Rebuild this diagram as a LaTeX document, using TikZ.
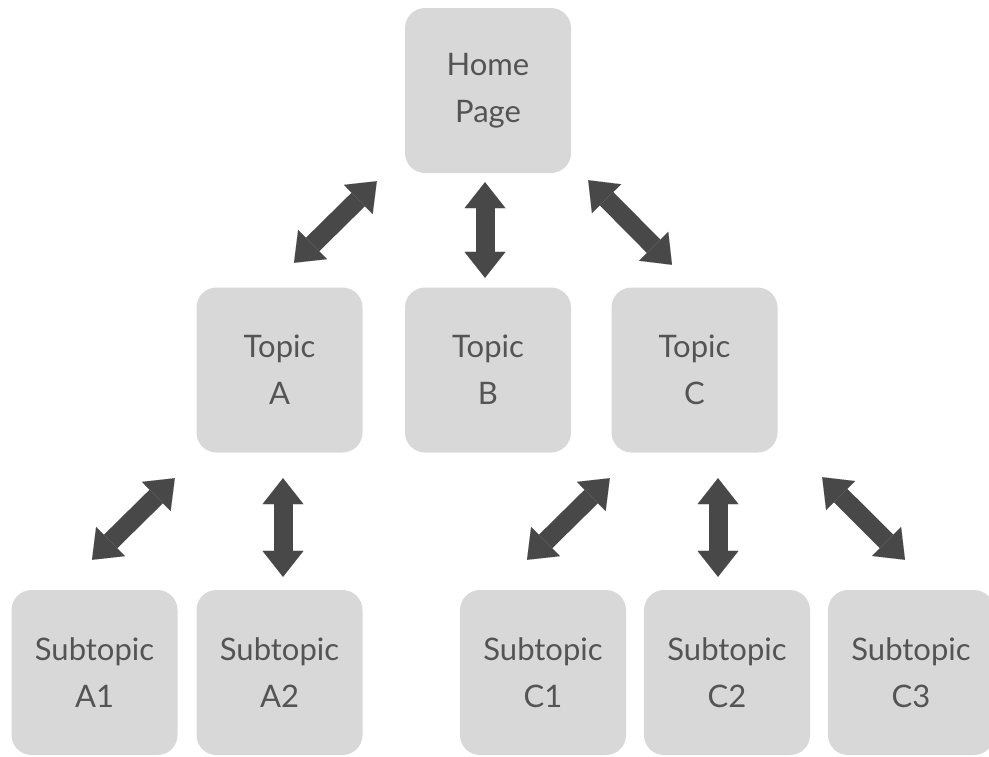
\documentclass[tikz,border=0pt]{standalone}
\usepackage{fontspec}
\setmainfont{Lato}
\usepackage{tikz}
\usetikzlibrary{arrows.meta,positioning,calc}
\definecolor{cBox}{HTML}{D8D8D8}
\definecolor{cTxt}{HTML}{545454}
\definecolor{cArr}{HTML}{484848}
\tikzset{
  page/.style={rectangle,rounded corners=20pt,fill=cBox,text=cTxt,align=center,
    minimum width=166pt,minimum height=165pt,inner sep=0pt,
    font=\fontsize{31}{47}\selectfont},
  link/.style={{Triangle[length=26pt,width=41pt,line width=0.01pt]}-{Triangle[length=26pt,width=41pt,line width=0.01pt]},
    line width=19pt,cArr},
}

\begin{document}
\begin{tikzpicture}[x=1pt,y=1pt]
  \clip (0,0) rectangle (989,-756);
  % the pages
  \node[page] (home) at (488,-90.5) {Home\\Page};
  \node[page] (topicA) at (279.5,-370) {Topic\\A};
  \node[page] (topicB) at (488,-370) {Topic\\B};
  \node[page] (topicC) at (694.5,-370) {Topic\\C};
  \node[page] (subA1) at (94.5,-672.5) {Subtopic\\A1};
  \node[page] (subA2) at (279.5,-672.5) {Subtopic\\A2};
  \node[page] (subC1) at (543,-672.5) {Subtopic\\C1};
  \node[page] (subC2) at (727,-672.5) {Subtopic\\C2};
  \node[page] (subC3) at (911,-672.5) {Subtopic\\C3};
  % links between levels
  \draw[link] ($(home.south west)+(-28,-8)$) -- ($(topicA.north)+(14.5,24.5)$);
  \draw[link] ($(home.south)+(-3,-9)$) -- ($(topicB.north)+(-3,9.5)$);
  \draw[link] ($(home.south east)+(17,-7)$) -- ($(topicC.north)+(-22.5,22.5)$);
  \draw[link] ($(topicA.south west)+(-21.5,-25.5)$) -- ($(subA1.north)+(-2.5,30)$);
  \draw[link] ($(topicA.south)+(3.5,-25.5)$) -- ($(subA2.north)+(3.5,13)$);
  \draw[link] ($(topicC.south west)+(-1.5,-25.5)$) -- ($(subC1.north)+(-16,30)$);
  \draw[link] ($(topicC.south)+(23.5,-25.5)$) -- ($(subC2.north)+(-9,13)$);
  \draw[link] ($(topicC.south east)+(44.5,-24.5)$) -- ($(subC3.north)+(-6,30)$);
\end{tikzpicture}
\end{document}
